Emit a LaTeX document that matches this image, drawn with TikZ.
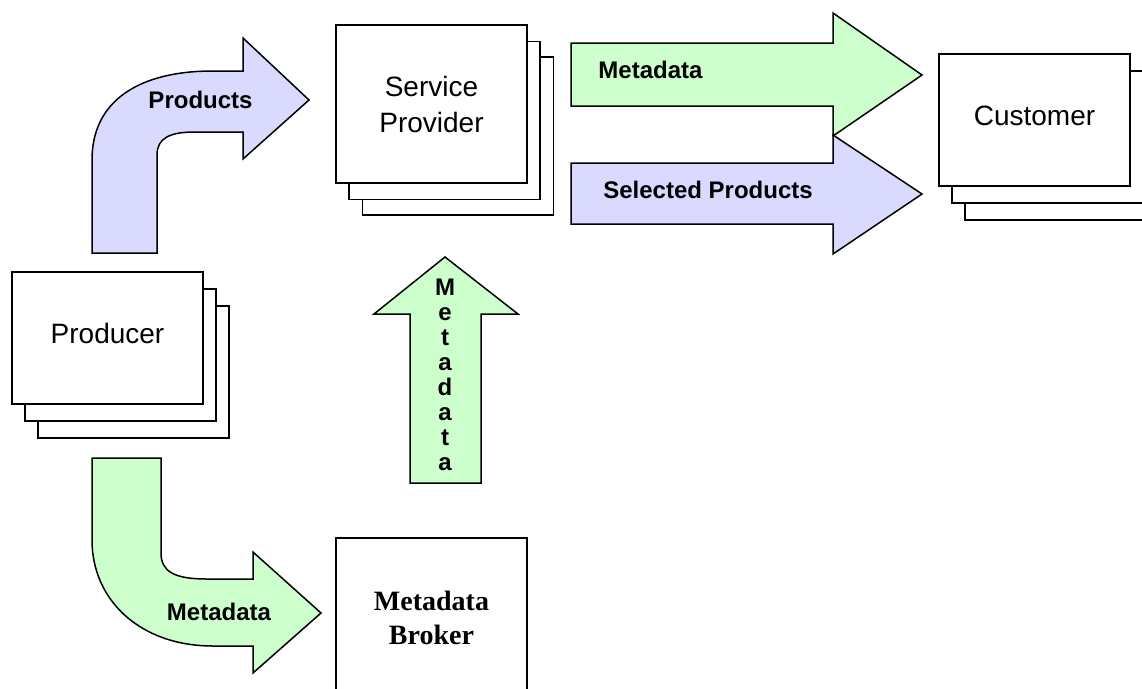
\documentclass[tikz,border=0pt]{standalone}
\usepackage{fontspec}
\setmainfont{Liberation Sans}
\newfontfamily\serifbold{Liberation Serif}
\definecolor{lav}{RGB}{218,218,255}
\definecolor{mint}{RGB}{204,255,204}
\tikzset{
  card/.style={draw, line width=1.8pt, fill=white, inner sep=0pt, minimum width=191pt},
  blockarrow/.style={draw, line width=1.5pt, line join=miter},
  lbl/.style={font=\fontsize{24}{25}\selectfont\bfseries, inner sep=0pt},
  boxtext/.style={font=\fontsize{28}{36}\selectfont, align=center, inner sep=0pt}
}
\begin{document}
\begin{tikzpicture}[x=1pt, y=-1pt]
\useasboundingbox (0,0) rectangle (1142,688);
\begin{scope}
\clip (0,0) rectangle (1142,688);

% ---------- Service Provider stack ----------
\node[card, minimum height=158pt] (sp3) at (458,136) {};
\node[card, minimum height=158pt] (sp2) at (444.5,120.5) {};
\node[card, minimum height=158pt, boxtext] (sp) at (431.5,104) {Service\\Provider};

% ---------- Customer stack ----------
\node[card, minimum height=132pt] (cu3) at (1060.5,154) {};
\node[card, minimum height=132pt] (cu2) at (1047.5,137) {};
\node[card, minimum height=132pt, label={[boxtext, yshift=4.5pt]center:Customer}] (cu) at (1034.5,120) {};

% ---------- Producer stack ----------
\node[card, minimum height=132pt] (pr3) at (133.5,372) {};
\node[card, minimum height=132pt] (pr2) at (120.5,355) {};
\node[card, minimum height=132pt, label={[boxtext, yshift=5pt]center:Producer}] (pr) at (107.5,338) {};

% ---------- Metadata Broker ----------
\node[card, minimum height=159pt, font=\serifbold\bfseries\fontsize{28}{34}\selectfont, align=center] (mb) at (431.5,617.5) {Metadata\\Broker};

% ---------- Products bent arrow (Producer -> Service Provider) ----------
\draw[blockarrow, fill=lav] (157,253) -- (92,253) -- (92,160)
  .. controls (92,100) and (140,71) .. (213,71) -- (243,71) -- (243,38)
  -- (309,100) -- (243,159) -- (243,132) -- (195,132)
  .. controls (170,132) and (157,138) .. (157,155) -- cycle;
\node[lbl] (lprod) at (200.5,99.5) {Products};

% ---------- Selected Products arrow ----------
\draw[blockarrow, fill=lav] (571,163) -- (833,163) -- (833,135) -- (922,194)
  -- (833,254) -- (833,224) -- (571,224) -- cycle;
\node[lbl] (lsel) at (708,190) {Selected Products};

% ---------- Metadata arrow (Service Provider -> Customer) ----------
\draw[blockarrow, fill=mint] (571,43) -- (833,43) -- (833,13) -- (922,75)
  -- (833,136) -- (833,106) -- (571,106) -- cycle;
\node[lbl] (lmeta1) at (650.5,69.5) {Metadata};

% ---------- Vertical Metadata arrow ----------
\draw[blockarrow, fill=mint] (410,483) -- (410,314) -- (374,314) -- (445,257)
  -- (518,314) -- (481,314) -- (481,483) -- cycle;
\node[lbl, align=center] (lmeta2) at (445,375) {M\\e\\t\\a\\d\\a\\t\\a};

% ---------- Metadata bent arrow (Producer -> Metadata Broker) ----------
\draw[blockarrow, fill=mint] (92,458) -- (161,458) -- (161,553)
  .. controls (161,572) and (175,579) .. (207,579) -- (253,579) -- (253,552)
  -- (321,613) -- (253,673) -- (253,646) -- (213,646)
  .. controls (140,646) and (92,600) .. (92,540) -- cycle;
\node[lbl] (lmeta3) at (219,612) {Metadata};
\end{scope}
\end{tikzpicture}
\end{document}
